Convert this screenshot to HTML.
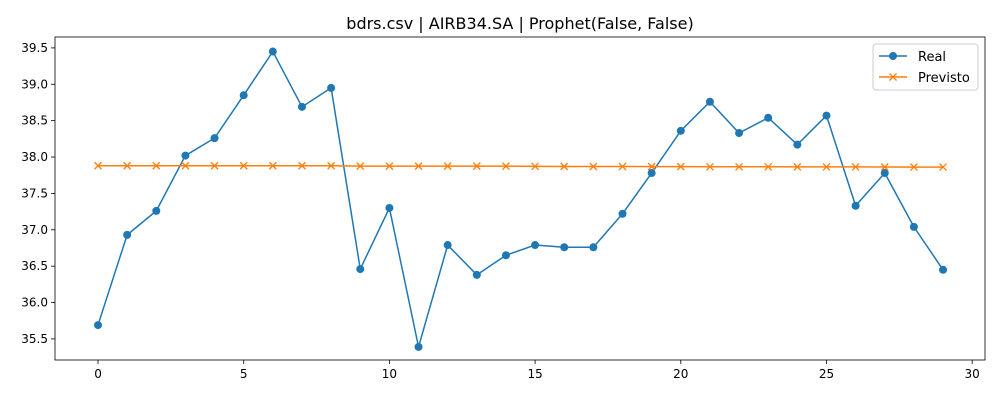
<!DOCTYPE html>
<html><head><meta charset="utf-8"><style>
body{margin:0;background:#fff}
svg text{font-family:"DejaVu Sans","Liberation Sans",sans-serif;fill:#000}
</style></head><body>
<svg id="chart" width="1000" height="400" xmlns="http://www.w3.org/2000/svg"></svg>
<script>
const xTicks=[0,5,10,15,20,25,30];
const yTicks=[35.5,36.0,36.5,37.0,37.5,38.0,38.5,39.0,39.5];
const realValues=[35.69,36.93,37.26,38.02,38.26,38.85,39.45,38.69,38.95,36.46,37.30,35.39,36.79,36.38,36.65,36.79,36.76,36.76,37.22,37.78,38.36,38.76,38.33,38.54,38.17,38.57,37.33,37.78,37.04,36.45];
const forecastValues=[37.88,37.88,37.88,37.88,37.88,37.88,37.88,37.88,37.88,37.875,37.875,37.875,37.875,37.875,37.875,37.872,37.87,37.87,37.87,37.868,37.868,37.866,37.866,37.866,37.865,37.864,37.864,37.863,37.862,37.862];
const L=55,R=985,T=37,B=360;
const xMin=-1.476,xMax=30.44,yMin=35.21,yMax=39.65;
const X=v=>L+(v-xMin)/(xMax-xMin)*(R-L);
const Y=v=>B-(v-yMin)/(yMax-yMin)*(B-T);
const svg=document.getElementById('chart');
const NS='http://www.w3.org/2000/svg';
function mk(t,a,p){const e=document.createElementNS(NS,t);for(const k in a)e.setAttribute(k,a[k]);(p||svg).appendChild(e);return e;}
let e;
e=mk('text',{x:520,y:29,'text-anchor':'middle','font-size':16});e.textContent='bdrs.csv | AIRB34.SA | Prophet(False, False)';


xTicks.forEach(t=>{const x=X(t);
e=mk('line',{x1:x,x2:x,y1:B,y2:B+4,stroke:'#000','stroke-width':0.8});


e=mk('text',{x:x,y:B+18,'text-anchor':'middle','font-size':12});e.textContent=t;

});
yTicks.forEach(t=>{const y=Y(t);
e=mk('line',{x1:L-4,x2:L,y1:y,y2:y,stroke:'#000','stroke-width':0.8});


e=mk('text',{x:L-7,y:y+4,'text-anchor':'end','font-size':12});e.textContent=t.toFixed(1);

});
function series(vals,color,name,marker){
const pts=vals.map((v,i)=>X(i)+','+Y(v)).join(' ');
e=mk('polyline',{points:pts,fill:'none',stroke:color,'stroke-width':1.5});


vals.forEach((v,i)=>{const x=X(i),y=Y(v);
if(marker==='o'){e=mk('circle',{cx:x,cy:y,r:4,fill:color});}
else{e=mk('path',{d:`M${x-3.5},${y-3.5}L${x+3.5},${y+3.5}M${x-3.5},${y+3.5}L${x+3.5},${y-3.5}`,stroke:color,'stroke-width':1.3});}

});}
series(realValues,'#1f77b4','real','o');
series(forecastValues,'#ff7f0e','previsto','x');
e=mk('rect',{x:L,y:T,width:R-L,height:B-T,fill:'none',stroke:'#000','stroke-width':0.8});


const g=mk('g',{});


mk('rect',{x:873,y:44,width:105,height:46,rx:3,fill:'#fff',stroke:'#ccc','stroke-width':1},g);
mk('line',{x1:879,x2:907,y1:56,y2:56,stroke:'#1f77b4','stroke-width':1.5},g);
mk('circle',{cx:893,cy:56,r:4,fill:'#1f77b4'},g);
e=mk('text',{x:918,y:61,'font-size':13},g);e.textContent='Real';


mk('line',{x1:879,x2:907,y1:77,y2:77,stroke:'#ff7f0e','stroke-width':1.5},g);
mk('path',{d:'M889.5,73.5L896.5,80.5M889.5,80.5L896.5,73.5',stroke:'#ff7f0e','stroke-width':1.3},g);
e=mk('text',{x:918,y:82,'font-size':13},g);e.textContent='Previsto';


</script>
</body></html>
